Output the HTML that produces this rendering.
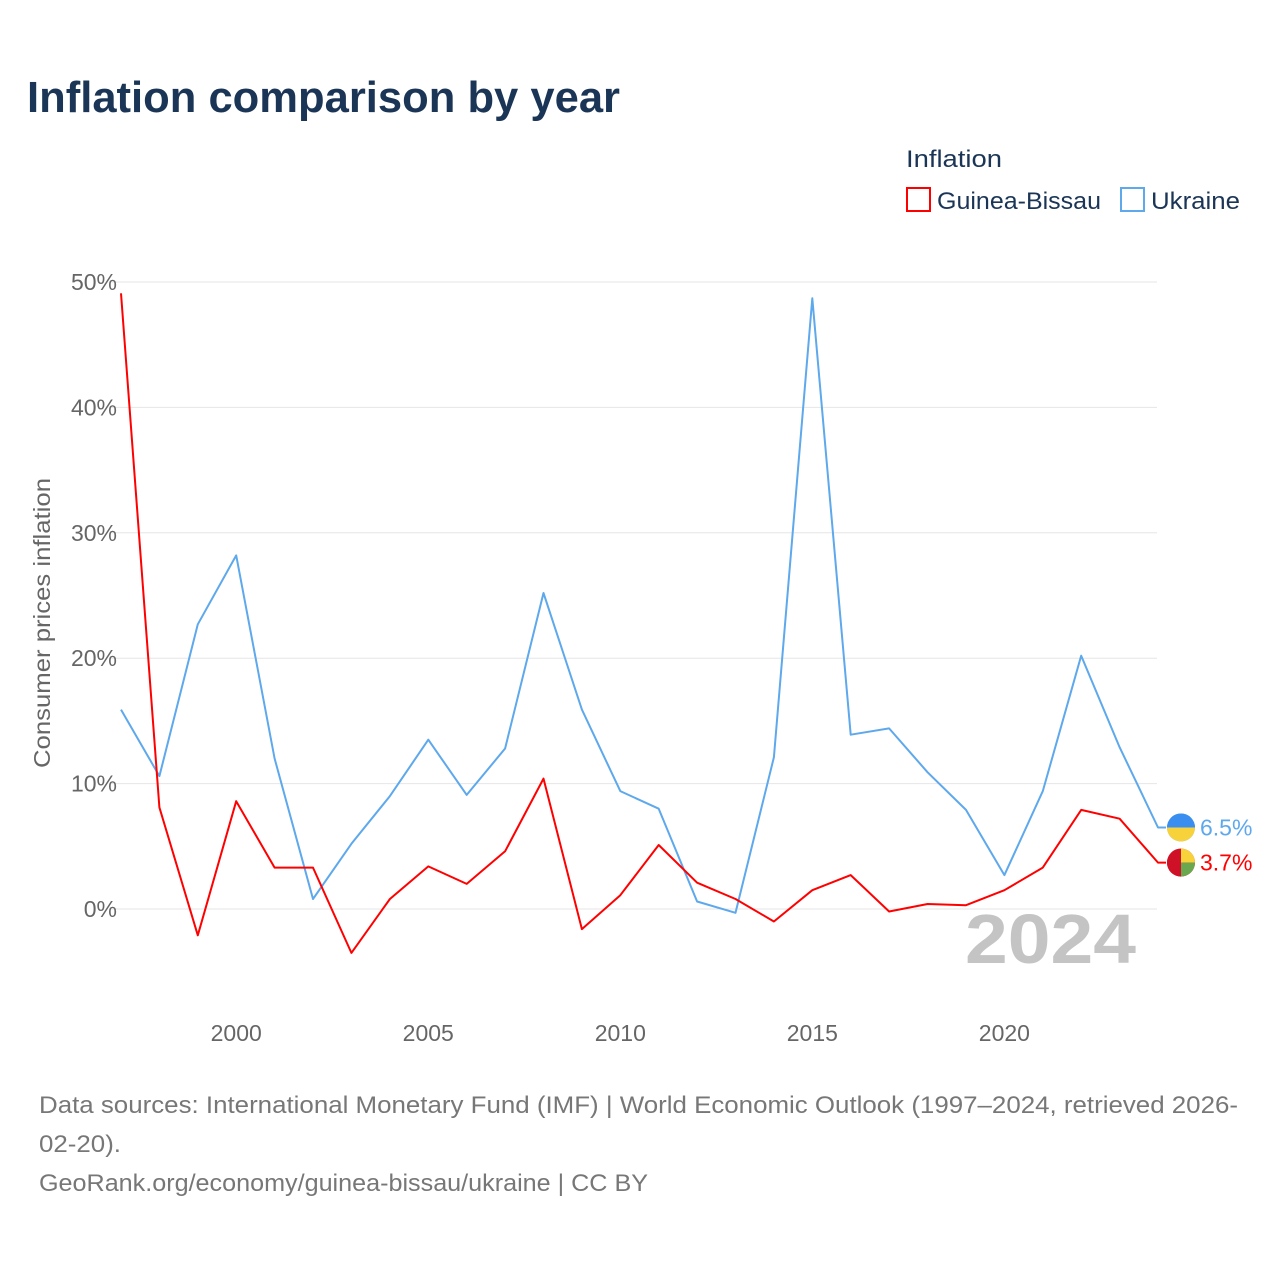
<!DOCTYPE html>
<html><head><meta charset="utf-8">
<style>
body{margin:0;background:#fff;font-family:"Liberation Sans",sans-serif;}
#wrap{position:relative;width:1280px;height:1280px;overflow:hidden;}
</style></head>
<body>
<div id="wrap">
<svg id="chart" width="1280" height="1280">
<text x="27" y="112" font-size="44" font-weight="bold" fill="#1b3556" textLength="593" lengthAdjust="spacingAndGlyphs">Inflation comparison by year</text>
<text x="906" y="167" font-size="24" fill="#1b3556" textLength="96" lengthAdjust="spacingAndGlyphs">Inflation</text>
<g>
<rect x="907" y="188" width="23" height="23" fill="none" stroke="#ff0000" stroke-width="2"/>
<text x="937" y="209" font-size="24" fill="#1b3556" textLength="164" lengthAdjust="spacingAndGlyphs">Guinea-Bissau</text></g>
<g>
<rect x="1121" y="188" width="23" height="23" fill="none" stroke="#5ea8ec" stroke-width="2"/>
<text x="1151" y="209" font-size="24" fill="#1b3556" textLength="89" lengthAdjust="spacingAndGlyphs">Ukraine</text></g>
<g id="grid"></g>
<text transform="translate(50,623) rotate(-90)" text-anchor="middle" font-size="23" fill="#666" textLength="290" lengthAdjust="spacingAndGlyphs">Consumer prices inflation</text>
<text x="965" y="963" font-size="70" font-weight="bold" fill="#c4c4c4" textLength="171" lengthAdjust="spacingAndGlyphs">2024</text>
<g id="lines"></g>
<g font-size="24" fill="#777">
<text x="39" y="1113" textLength="1199" lengthAdjust="spacingAndGlyphs">Data sources: International Monetary Fund (IMF) | World Economic Outlook (1997–2024, retrieved 2026-</text>
<text x="39" y="1152" textLength="82" lengthAdjust="spacingAndGlyphs">02-20).</text>
<text x="39" y="1191" textLength="609" lengthAdjust="spacingAndGlyphs">GeoRank.org/economy/guinea-bissau/ukraine | CC BY</text></g>
</svg>
</div>
<script>
const years=[1997,1998,1999,2000,2001,2002,2003,2004,2005,2006,2007,2008,2009,2010,2011,2012,2013,2014,2015,2016,2017,2018,2019,2020,2021,2022,2023,2024];
const ukraine=[15.9,10.6,22.7,28.2,12.0,0.8,5.2,9.0,13.5,9.1,12.8,25.2,15.9,9.4,8.0,0.6,-0.3,12.1,48.7,13.9,14.4,10.9,7.9,2.7,9.4,20.2,12.9,6.5];
const guinea=[49.1,8.1,-2.1,8.6,3.3,3.3,-3.5,0.8,3.4,2.0,4.6,10.4,-1.6,1.1,5.1,2.1,0.8,-1.0,1.5,2.7,-0.2,0.4,0.3,1.5,3.3,7.9,7.2,3.7];
const yTicks=[0,10,20,30,40,50];
const xTicks=[2000,2005,2010,2015,2020];
const NS="http://www.w3.org/2000/svg";
const x=v=>121+(v-1997)*(1158-121)/27;
const y=v=>909-v*(909-282)/50;
const grid=document.getElementById('grid');
function mk(tag,attrs,parent){const e=document.createElementNS(NS,tag);for(const k in attrs)e.setAttribute(k,attrs[k]);parent.appendChild(e);return e;}
yTicks.forEach(t=>{
 const l=mk('line',{x1:110,x2:1157,y1:y(t),y2:y(t),stroke:'#e6e6e6','stroke-width':1},grid);
 
 
 const tx=mk('text',{x:117,y:y(t)+8,'text-anchor':'end','font-size':23,fill:'#666'},grid);
 tx.textContent=t+'%';
 
 
});
xTicks.forEach(t=>{
 const tx=mk('text',{x:x(t),y:1041,'text-anchor':'middle','font-size':23,fill:'#666'},grid);
 tx.textContent=t;
 
 
});
const lines=document.getElementById('lines');
function series(vals,color,name,label){
 let d=vals.map((v,i)=>(i?'L':'M')+x(years[i]).toFixed(1)+','+y(v).toFixed(1)).join(' ');
 const last=vals[vals.length-1];
 d+=' L'+(x(2024)+8)+','+y(last).toFixed(1);
 const p=mk('path',{d:d,fill:'none',stroke:color,'stroke-width':2,'stroke-linejoin':'round'},lines);
 
 
 const c=mk('circle',{cx:1181,cy:y(last),r:14,fill:color},lines);
 
 
 const t=mk('text',{x:1200,y:y(last)+8,'font-size':23,fill:color},lines);
 t.textContent=label;
 
 
 return c;
}
series(ukraine,'#5ea8ec','ukraine',ukraine[ukraine.length-1]+'%');
series(guinea,'#ff0000','guinea-bissau',guinea[guinea.length-1]+'%');
const uy=y(ukraine[ukraine.length-1]);
const ub=mk('path',{d:`M1167,${uy} A14,14 0 0 1 1195,${uy} Z`,fill:'#3a8ef0'},lines);


const uyl=mk('path',{d:`M1167,${uy} A14,14 0 0 0 1195,${uy} Z`,fill:'#f7d23a'},lines);


const gy=y(guinea[guinea.length-1]);
const g1=mk('path',{d:`M1181,${gy-14} A14,14 0 0 0 1181,${gy+14} Z`,fill:'#ce1126'},lines);


const g2=mk('path',{d:`M1181,${gy-14} A14,14 0 0 1 1195,${gy} L1181,${gy} Z`,fill:'#f7d23a'},lines);


const g3=mk('path',{d:`M1181,${gy+14} A14,14 0 0 0 1195,${gy} L1181,${gy} Z`,fill:'#6aa84f'},lines);


</script>
</body></html>
